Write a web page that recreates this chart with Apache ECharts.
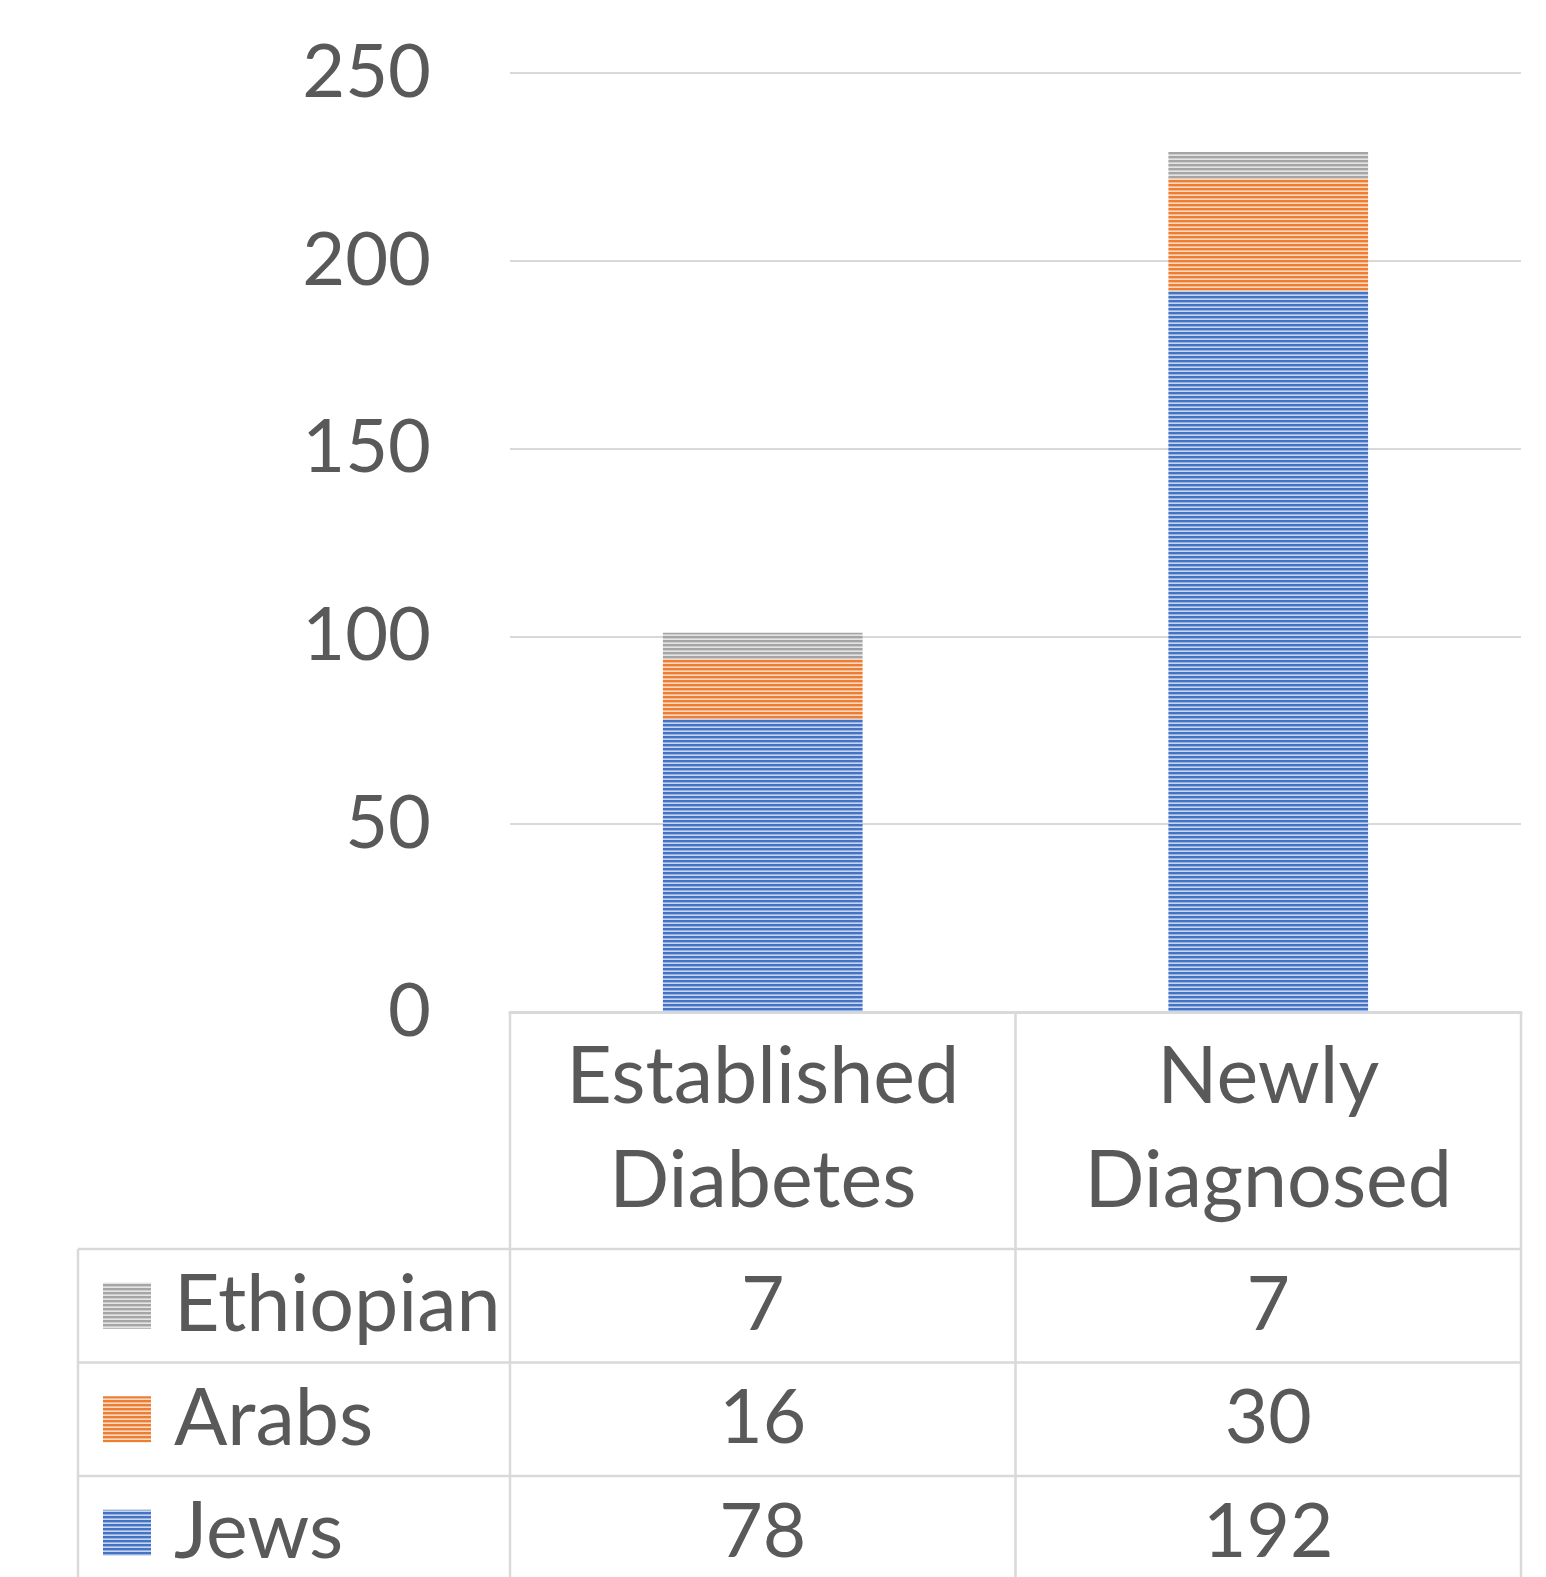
<!DOCTYPE html>
<html>
<head>
<meta charset="utf-8">
<script src="https://cdn.jsdelivr.net/npm/echarts@6/dist/echarts.min.js"></script>
<style>
  html, body { margin: 0; padding: 0; background: #fff; }
  #chart1 { width: 1546px; height: 1577px; }
</style>
</head>
<body>
<div id="chart1"></div>
<script>
var categories = ['Established\nDiabetes', 'Newly\nDiagnosed'];
var seriesNames = ['Jews', 'Arabs', 'Ethiopian'];
var jews = [78, 192];
var arabs = [16, 30];
var ethiopian = [7, 7];
var colors = ['#4472c4', '#ed7d31', '#a5a5a5'];

var FONT = 'Lato';
var TXT = '#595959';
var LINE = '#d9d9d9';
var WORD_SIZE = 79;   // text labels
var NUM_SIZE = 74;    // numbers

// striped fill like the excel "narrow horizontal" pattern
function stripes(color) {
    var c = document.createElement('canvas');
    c.width = 4; c.height = 4;
    var ctx = c.getContext('2d');
    ctx.fillStyle = '#ffffff';
    ctx.fillRect(0, 0, 4, 4);
    ctx.fillStyle = color;
    ctx.globalAlpha = 1;
    ctx.fillRect(0, 0, 4, 2);
    ctx.globalAlpha = 0.55;
    ctx.fillRect(0, 2, 4, 1);
    ctx.globalAlpha = 0.3;
    ctx.fillRect(0, 3, 4, 1);
    return { image: c, repeat: 'repeat' };
}

var myChart1 = echarts.init(document.getElementById('chart1'));
var valuesBy = [jews, arabs, ethiopian];

var series = seriesNames.map(function (name, i) {
    return {
        name: name,
        type: 'bar',
        stack: 'total',
        barWidth: '39.5%',
        data: valuesBy[i],
        itemStyle: { color: stripes(colors[i]) },
        emphasis: { disabled: true }
    };
});

myChart1.setOption({
    animation: false,
    grid: { left: 510, right: 25, top: 73, bottom: 565, containLabel: false },
    xAxis: {
        type: 'category',
        data: categories,
        axisLine: { lineStyle: { color: LINE, width: 3 } },
        axisTick: { show: false },
        axisLabel: {
            fontFamily: FONT, fontSize: WORD_SIZE, color: TXT,
            lineHeight: 104, margin: 14, interval: 0
        }
    },
    yAxis: {
        type: 'value',
        min: 0, max: 250, interval: 50,
        axisLine: { show: false },
        axisTick: { show: false },
        splitLine: { lineStyle: { color: LINE, width: 2 } },
        axisLabel: { fontFamily: FONT, fontSize: NUM_SIZE, color: TXT, margin: 79 }
    },
    series: series
});

// data table under the axis
var c0 = myChart1.convertToPixel({ xAxisIndex: 0 }, categories[0]);
var c1 = myChart1.convertToPixel({ xAxisIndex: 0 }, categories[1]);
var band = c1 - c0;
var xL = c0 - band / 2, xM = c0 + band / 2, xR = c1 + band / 2;
var yAxisPx = myChart1.convertToPixel({ yAxisIndex: 0 }, 0);
var tableLeft = 78;
var rowTop = 1249, rowH = 113.5;
var bottom = 1577;

var rows = [
    { name: 'Ethiopian', vals: ethiopian, color: colors[2] },
    { name: 'Arabs', vals: arabs, color: colors[1] },
    { name: 'Jews', vals: jews, color: colors[0] }
];

var g = [];
function line(x1, y1, x2, y2) {
    g.push({ type: 'line', shape: { x1: x1, y1: y1, x2: x2, y2: y2 },
        style: { stroke: LINE, lineWidth: 2.5 }, silent: true });
}
[xL, xM, xR].forEach(function (x) { line(x, yAxisPx, x, bottom); });
line(tableLeft, rowTop, tableLeft, bottom);
rows.forEach(function (r, i) {
    var y = rowTop + i * rowH;
    line(tableLeft, y, xR, y);
    var cy = y + rowH / 2;
    g.push({ type: 'rect', shape: { x: 103, y: cy - 23, width: 48, height: 46 },
        style: { fill: stripes(r.color) }, silent: true });
    g.push({ type: 'text', x: 174, y: cy, silent: true,
        style: { text: r.name, fontFamily: FONT, fontSize: WORD_SIZE, fill: TXT,
            align: 'left', verticalAlign: 'middle' } });
    [c0, c1].forEach(function (cx, j) {
        g.push({ type: 'text', x: cx, y: cy, silent: true,
            style: { text: String(r.vals[j]), fontFamily: FONT, fontSize: NUM_SIZE + 1, fill: TXT,
                align: 'center', verticalAlign: 'middle' } });
    });
});
myChart1.setOption({ graphic: g });

window.onresize = function () {
    myChart1.resize();
};
</script>
</body>
</html>
